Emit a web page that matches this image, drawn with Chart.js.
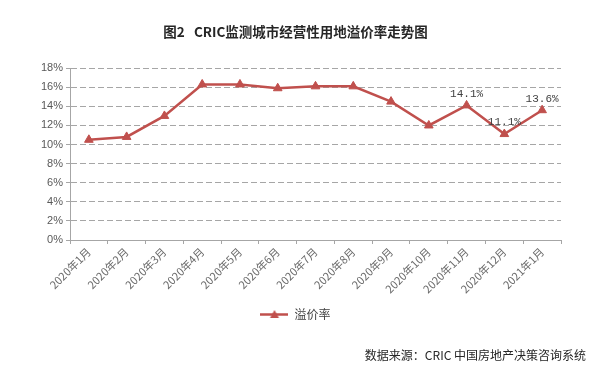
<!DOCTYPE html>
<html>
<head>
<meta charset="utf-8">
<script src="https://cdn.jsdelivr.net/npm/chart.js@4/dist/chart.umd.min.js"></script>
<style>
html,body{margin:0;padding:0;background:#fff;}
#wrap{width:600px;height:370px;}
</style>
</head>
<body>
<div id="wrap"><canvas id="c" width="600" height="370"></canvas></div>
<script>
const categories = ["2020年1月","2020年2月","2020年3月","2020年4月","2020年5月","2020年6月","2020年7月","2020年8月","2020年9月","2020年10月","2020年11月","2020年12月","2021年1月"];
const premiumRate = [10.5, 10.8, 13.0, 16.3, 16.3, 15.9, 16.1, 16.1, 14.5, 12.0, 14.1, 11.1, 13.6];
const labeledIdx = [10, 11, 12];
const yTicks = [0, 2, 4, 6, 8, 10, 12, 14, 16, 18];
const seriesName = "溢价率";
const titleText = "图2   CRIC监测城市经营性用地溢价率走势图";
const sourceText = "数据来源：CRIC 中国房地产决策咨询系统";

const RED = "#C0504D";
const CJK = "'Noto Sans CJK SC','Liberation Sans',sans-serif";

// legend marker: line with triangle
const mk = document.createElement('canvas');
mk.width = 28; mk.height = 10;
(function(){
  const g = mk.getContext('2d');
  g.strokeStyle = RED; g.lineWidth = 2.5;
  g.beginPath(); g.moveTo(0,5.5); g.lineTo(28,5.5); g.stroke();
  g.fillStyle = RED;
  g.beginPath(); g.moveTo(14,1); g.lineTo(18.5,9); g.lineTo(9.5,9); g.closePath(); g.fill();
})();

const extras = {
  id: 'extras',
  afterDatasetsDraw(chart) {
    const ctx = chart.ctx;
    const meta = chart.getDatasetMeta(0);
    ctx.save();
    ctx.font = "11px 'Liberation Mono', monospace";
    ctx.fillStyle = "#404040";
    ctx.textAlign = "center";
    ctx.textBaseline = "bottom";
    labeledIdx.forEach(i => {
      const p = meta.data[i];
      ctx.fillText(premiumRate[i].toFixed(1) + "%", p.x, p.y - 6);
    });
    ctx.restore();
  },
  afterDraw(chart) {
    const ctx = chart.ctx;
    ctx.save();
    ctx.font = "12px " + CJK;
    ctx.fillStyle = "#262626";
    ctx.textAlign = "right";
    ctx.textBaseline = "middle";
    ctx.fillText(sourceText, 586, 355);
    ctx.restore();
  }
};

new Chart(document.getElementById('c'), {
  type: 'line',
  data: {
    labels: categories,
    datasets: [{
      label: seriesName,
      data: premiumRate,
      borderColor: RED,
      backgroundColor: RED,
      borderWidth: 2.5,
      pointStyle: 'triangle',
      pointRadius: 5,
      pointBackgroundColor: RED,
      pointBorderColor: RED,
      pointBorderWidth: 1,
      tension: 0
    }]
  },
  options: {
    responsive: false,
    animation: false,
    devicePixelRatio: 1,
    layout: { padding: { top: 0, left: 30, right: 39, bottom: 40 } },
    plugins: {
      title: {
        display: true,
        text: titleText,
        color: "#262626",
        font: { family: CJK, size: 13.5, weight: 'bold', lineHeight: 1.2 },
        padding: { top: 24, bottom: 28 }
      },
      legend: {
        display: true,
        position: 'bottom',
        labels: {
          usePointStyle: true,
          pointStyle: mk,
          pointStyleWidth: 28,
          padding: 6,
          color: "#404040",
          font: { family: CJK, size: 12 }
        }
      },
      tooltip: { enabled: false }
    },
    scales: {
      x: {
        type: 'category',
        offset: true,
        grid: { offset: true, drawOnChartArea: false, tickLength: 4, color: "#A6A6A6" },
        border: { color: "#A6A6A6", width: 1 },
        ticks: {
          color: "#6b6b6b",
          font: { family: CJK, size: 11 },
          minRotation: 45, maxRotation: 45,
          padding: 1,
          autoSkip: false
        },
        afterFit(s) { s.height = 62; }
      },
      y: {
        min: 0, max: 18,
        afterBuildTicks(s) { s.ticks = yTicks.map(v => ({ value: v })); },
        grid: { color: "#A6A6A6", tickLength: 4, tickColor: "#A6A6A6", tickBorderDash: [] },
        border: { color: "#A6A6A6", width: 1, dash: [6, 3] },
        ticks: {
          color: "#595959",
          font: { family: "'Liberation Sans', Arial, sans-serif", size: 11 },
          padding: 3,
          callback: v => v + "%"
        },
        afterFit(s) { s.width = 40; }
      }
    }
  },
  plugins: [extras]
});
</script>
</body>
</html>
